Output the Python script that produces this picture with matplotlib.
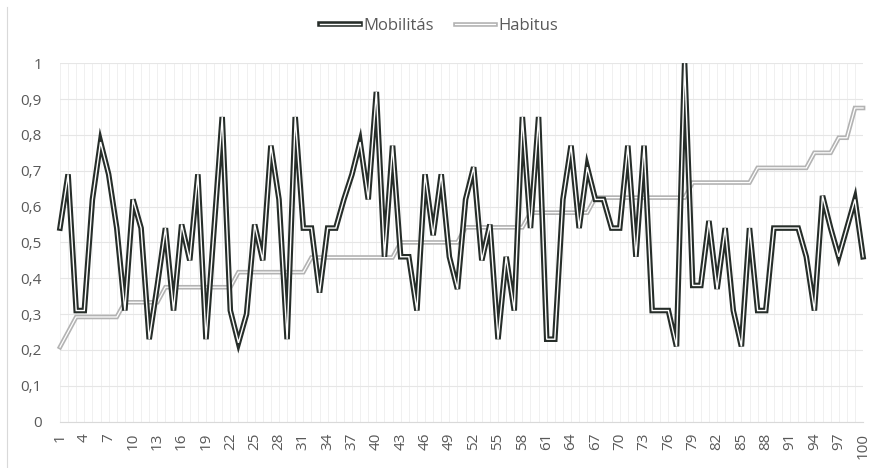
import numpy as np
import matplotlib
matplotlib.use('Agg')
import matplotlib.pyplot as plt
import matplotlib.patheffects as pe
from matplotlib.lines import Line2D

# category labels 1..100
kategoriak = list(range(1, 101))

mobilitas = [0.54, 0.69, 0.31, 0.31, 0.62, 0.78, 0.69, 0.54, 0.31, 0.62,
             0.54, 0.23, 0.38, 0.54, 0.31, 0.55, 0.45, 0.69, 0.23, 0.54,
             0.85, 0.31, 0.22, 0.30, 0.55, 0.45, 0.77, 0.62, 0.23, 0.85,
             0.54, 0.54, 0.36, 0.54, 0.54, 0.62, 0.69, 0.78, 0.62, 0.92,
             0.46, 0.77, 0.46, 0.46, 0.31, 0.69, 0.52, 0.69, 0.46, 0.37,
             0.62, 0.71, 0.45, 0.55, 0.23, 0.46, 0.31, 0.85, 0.54, 0.85,
             0.23, 0.23, 0.62, 0.77, 0.54, 0.71, 0.62, 0.62, 0.54, 0.54,
             0.77, 0.46, 0.77, 0.31, 0.31, 0.31, 0.21, 1.00, 0.38, 0.38,
             0.56, 0.37, 0.54, 0.31, 0.21, 0.54, 0.31, 0.31, 0.54, 0.54,
             0.54, 0.54, 0.46, 0.31, 0.63, 0.54, 0.46, 0.54, 0.62, 0.46]

habitus = [0.208, 0.25, 0.292, 0.292, 0.292, 0.292, 0.292, 0.292, 0.333, 0.333,
           0.333, 0.333, 0.333, 0.375, 0.375, 0.375, 0.375, 0.375, 0.375, 0.375,
           0.375, 0.375, 0.417, 0.417, 0.417, 0.417, 0.417, 0.417, 0.417, 0.417,
           0.417, 0.458, 0.458, 0.458, 0.458, 0.458, 0.458, 0.458, 0.458, 0.458,
           0.458, 0.458, 0.5, 0.5, 0.5, 0.5, 0.5, 0.5, 0.5, 0.5,
           0.542, 0.542, 0.542, 0.542, 0.542, 0.542, 0.542, 0.542, 0.583, 0.583,
           0.583, 0.583, 0.583, 0.583, 0.583, 0.583, 0.625, 0.625, 0.625, 0.625,
           0.625, 0.625, 0.625, 0.625, 0.625, 0.625, 0.625, 0.625, 0.667, 0.667,
           0.667, 0.667, 0.667, 0.667, 0.667, 0.667, 0.708, 0.708, 0.708, 0.708,
           0.708, 0.708, 0.708, 0.75, 0.75, 0.75, 0.792, 0.792, 0.875, 0.875]

sotet = '#262d29'
szurke = '#b3b3b3'
szoveg = '#595959'

plt.rcParams['font.family'] = ['Open Sans', 'DejaVu Sans']

fig = plt.figure(figsize=(8.78, 4.68), dpi=100)
ax = fig.add_axes([0.0683, 0.099, 0.9147, 0.766])

ax.plot(kategoriak, habitus, color='white', lw=0.9, solid_joinstyle='miter',
        label='Habitus', zorder=3, clip_on=False,
        path_effects=[pe.Stroke(linewidth=3.3, foreground=szurke), pe.Normal()])
ax.plot(kategoriak, mobilitas, color='white', lw=1.0, solid_joinstyle='miter',
        label='Mobilitás', zorder=4, clip_on=False,
        path_effects=[pe.Stroke(linewidth=4.0, foreground=sotet), pe.Normal()])

ax.set_xlim(1, 100)
ax.set_ylim(0, 1)
ax.set_yticks(np.arange(0, 1.01, 0.1))
ax.set_yticklabels(['0' if i == 0 else ('1' if i == 10 else '0,%d' % i) for i in range(11)])
ax.set_xticks(kategoriak[::3])
ax.set_xticklabels([str(k) for k in kategoriak[::3]], rotation=90)
ax.set_xticks(kategoriak, minor=True)

ax.grid(axis='y', color='#e6e6e6', lw=0.8, zorder=0)
ax.grid(axis='x', which='both', color='#f0f0f0', lw=0.7, zorder=0)
for s in ['top', 'right', 'left']:
    ax.spines[s].set_visible(False)
ax.spines['bottom'].set_color('#d9d9d9')
ax.tick_params(axis='both', which='both', length=0, labelsize=11, labelcolor=szoveg)
ax.tick_params(axis='y', pad=13)
ax.tick_params(axis='x', pad=8)

h, l = ax.get_legend_handles_labels()
fig.legend(h[::-1], l[::-1], loc='center', bbox_to_anchor=(0.5, 1 - 26 / 468), ncol=2,
           frameon=False, fontsize=12, labelcolor=szoveg, handlelength=2.4,
           columnspacing=1.3, handletextpad=0.2)

# chart area border on the left
fig.add_artist(Line2D([7.5 / 878, 7.5 / 878], [0, 1 - 7 / 468], color='#d9d9d9', lw=0.8))

fig.savefig('out.png', dpi=100)
